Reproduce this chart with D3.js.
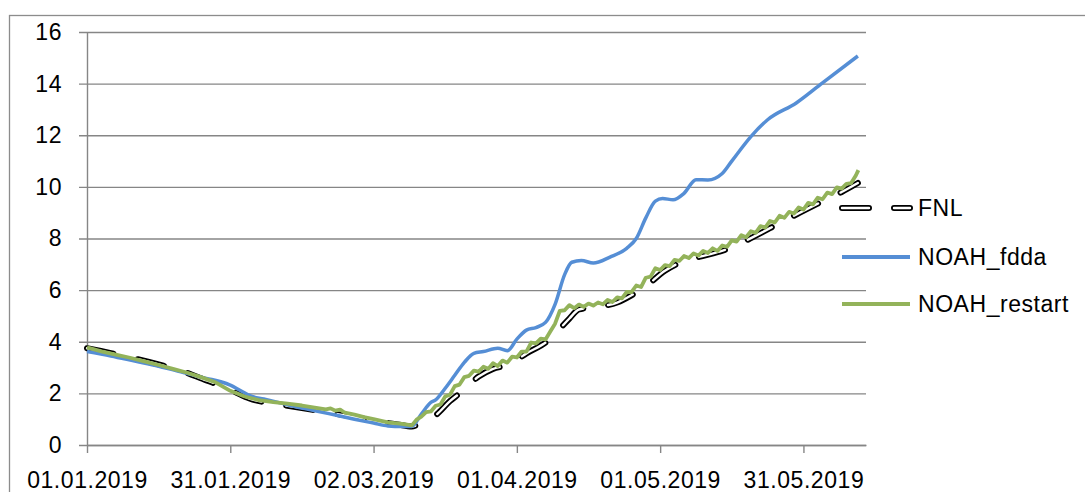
<!DOCTYPE html>
<html>
<head>
<meta charset="utf-8">
<script src="https://cdn.jsdelivr.net/npm/d3@7/dist/d3.min.js"></script>
<style>
  html, body { margin: 0; padding: 0; background: #fff; }
  svg { display: block; font-family: "Liberation Sans", Arial, sans-serif; }
</style>
</head>
<body>
<svg id="chart" width="1085" height="492"></svg>
<script>
// ---------- data (day offsets from 01.01.2019) ----------
const tickDays = [0, 30, 60, 90, 120, 150];
const tickLabels = ["01.01.2019", "31.01.2019", "02.03.2019", "01.04.2019", "01.05.2019", "31.05.2019"];
const yTicks = [0, 2, 4, 6, 8, 10, 12, 14, 16];
const seriesNames = ["FNL", "NOAH_fdda", "NOAH_restart"];

const fnlDays = [0, 5, 10, 15, 20, 25, 28, 31, 34, 38, 42, 46, 50, 54, 58, 62, 65, 68, 70, 73, 76, 78, 82, 85, 88, 90, 92, 95, 97, 99, 101, 103, 107, 111, 114, 117, 121, 124, 128, 132, 135, 138, 143, 148, 153, 158, 161.4];
const fnlValues = [3.75, 3.56, 3.35, 3.12, 2.86, 2.5, 2.3, 2.05, 1.8, 1.63, 1.52, 1.4, 1.27, 1.15, 1.02, 0.88, 0.8, 0.72, 0.85, 1.15, 1.7, 2.0, 2.65, 2.95, 3.1, 3.3, 3.55, 3.85, 4.1, 4.5, 4.9, 5.25, 5.36, 5.52, 5.8, 6.15, 6.75, 7.05, 7.28, 7.47, 7.65, 7.92, 8.4, 8.88, 9.35, 9.8, 10.15];

const fddaDays = [0, 5, 10, 15, 20, 25, 28, 30, 32, 34, 37, 40, 44, 48, 52, 56, 60, 63, 66, 68, 70, 72, 73, 75, 77, 79, 81, 83, 86, 88, 90, 92, 94, 96, 98, 100, 101.5, 103.5, 106, 109.5, 113, 115, 117, 119, 120.5, 122.7, 125, 127.5, 130, 133, 135, 139, 142.5, 148.5, 154, 161.4];
const fddaValues = [3.62, 3.45, 3.25, 3.05, 2.82, 2.58, 2.45, 2.32, 2.12, 1.92, 1.78, 1.65, 1.47, 1.32, 1.16, 1.0, 0.85, 0.74, 0.72, 0.72, 1.2, 1.65, 1.75, 2.2, 2.7, 3.2, 3.55, 3.62, 3.75, 3.65, 4.1, 4.45, 4.55, 4.75, 5.45, 6.6, 7.08, 7.15, 7.05, 7.28, 7.62, 8.0, 8.8, 9.45, 9.55, 9.5, 9.75, 10.28, 10.27, 10.52, 11.0, 11.95, 12.6, 13.25, 14.03, 15.07];

const restartDays = [0, 3, 6, 9, 12, 15, 18, 21, 24, 27, 30, 33, 36, 39, 42, 45, 48, 50, 51, 52, 53, 54, 56, 58, 60, 63, 66, 68,
  69, 70, 71, 72, 73, 74, 75, 76, 77, 78, 79, 80, 81, 82, 83, 84, 85, 86, 87, 88, 89, 90,
  91, 92, 93, 94, 95, 96, 97, 98, 99, 100, 101, 102, 103, 104, 105, 106, 107, 108, 109, 110,
  111, 112, 113, 114, 115, 116, 117, 118, 119, 120, 121, 122, 123, 124, 125, 126, 127, 128, 129, 130,
  131, 132, 133, 134, 135, 136, 137, 138, 139, 140, 141, 142, 143, 144, 145, 146, 147, 148, 149, 150,
  151, 152, 153, 154, 155, 156, 157, 158, 159, 160, 161, 161.5];
const restartValues = [3.78, 3.63, 3.5, 3.38, 3.24, 3.1, 2.95, 2.8, 2.62, 2.42, 2.1, 1.88, 1.74, 1.66, 1.6, 1.53, 1.44, 1.38, 1.42, 1.33, 1.37, 1.25, 1.18, 1.08, 1.0, 0.88, 0.82, 0.76,
  0.98, 1.10, 1.27, 1.30, 1.52, 1.57, 1.88, 1.95, 2.28, 2.34, 2.63, 2.68, 2.88, 2.84, 3.03, 2.95, 3.17, 3.06, 3.27, 3.19, 3.42, 3.39,
  3.62, 3.62, 3.97, 3.94, 4.12, 4.09, 4.40, 4.70, 5.20, 5.22, 5.42, 5.30, 5.44, 5.35, 5.48, 5.40, 5.52, 5.45, 5.62, 5.54,
  5.72, 5.68, 5.93, 5.92, 6.18, 6.12, 6.48, 6.52, 6.85, 6.78, 6.97, 6.93, 7.17, 7.13, 7.32, 7.24, 7.42, 7.34, 7.52, 7.44,
  7.62, 7.52, 7.73, 7.68, 7.93, 7.88, 8.13, 8.05, 8.28, 8.22, 8.48, 8.42, 8.68, 8.62, 8.88, 8.80, 9.03, 8.97, 9.20, 9.12,
  9.38, 9.32, 9.58, 9.52, 9.78, 9.72, 9.98, 9.93, 10.12, 10.15, 10.45, 10.65];

// ---------- layout ----------
const svg = d3.select("#chart");
const plotLeft = 87, plotRight = 866, plotTop = 32, plotBottom = 445;
const gridColor = "#868686";
const blue = "#558ED5", green = "#93B35A";
const fnlDash = "27,25";
const fontSize = 23, letterSpacing = "0.55px";

const x = d3.scaleLinear().domain([0, 163.1]).range([plotLeft, plotRight]);
const y = d3.scaleLinear().domain([0, 16]).range([plotBottom, plotTop]);

// outer frame
svg.append("rect").attr("x", 9.5).attr("y", 15.5).attr("width", 1200).attr("height", 600)
  .attr("fill", "none").attr("stroke", "#8c8c8c").attr("stroke-width", 1.3);

// y axis + gridlines
const yAxis = svg.append("g").attr("transform", `translate(${plotLeft},0)`)
  .call(d3.axisLeft(y).tickValues(yTicks).tickSize(-(plotRight - plotLeft)).tickSizeOuter(0).tickPadding(25));
yAxis.selectAll(".tick line").attr("x1", -8).attr("x2", plotRight - plotLeft)
  .attr("stroke", gridColor).attr("stroke-width", 1.4);
yAxis.select(".domain").attr("stroke", gridColor).attr("stroke-width", 1.4);
yAxis.selectAll("text").attr("font-size", fontSize).attr("fill", "#000").attr("letter-spacing", letterSpacing)
  .attr("font-family", "'Liberation Sans', Arial, sans-serif");

// x axis
const xAxis = svg.append("g").attr("transform", `translate(0,${plotBottom})`)
  .call(d3.axisBottom(x).tickValues(tickDays).tickFormat((d, i) => tickLabels[i]).tickSize(8).tickSizeOuter(0).tickPadding(19));
xAxis.selectAll(".tick line").attr("stroke", gridColor).attr("stroke-width", 1.4);
xAxis.select(".domain").attr("stroke", gridColor).attr("stroke-width", 1.4);
xAxis.selectAll("text").attr("font-size", fontSize).attr("fill", "#000").attr("letter-spacing", letterSpacing)
  .attr("font-family", "'Liberation Sans', Arial, sans-serif");

// ---------- lines ----------
const smooth = d3.line().x(d => x(d[0])).y(d => y(d[1])).curve(d3.curveMonotoneX);
const jag = d3.line().x(d => x(d[0])).y(d => y(d[1]));

const fnl = d3.zip(fnlDays, fnlValues);
const fdda = d3.zip(fddaDays, fddaValues);
const restart = d3.zip(restartDays, restartValues);

// FNL: black-outlined dashes (white core)
svg.append("path").datum(fnl).attr("d", smooth).attr("fill", "none")
  .attr("stroke", "#000").attr("stroke-width", 6).attr("stroke-dasharray", fnlDash).attr("stroke-linecap", "round");
svg.append("path").datum(fnl).attr("d", smooth).attr("fill", "none")
  .attr("stroke", "#fff").attr("stroke-width", 2.4).attr("stroke-dasharray", fnlDash).attr("stroke-linecap", "round");

svg.append("path").datum(fdda).attr("d", smooth).attr("fill", "none")
  .attr("stroke", blue).attr("stroke-width", 3.5).attr("stroke-linejoin", "round");

svg.append("path").datum(restart).attr("d", jag).attr("fill", "none")
  .attr("stroke", green).attr("stroke-width", 3.8).attr("stroke-linejoin", "round");

// ---------- legend ----------
const legendY = [208, 257, 304];
const lg = svg.append("g");
seriesNames.forEach((name, i) => {
  const ly = legendY[i];
  if (i === 0) {
    lg.append("line").attr("x1", 842).attr("x2", 910).attr("y1", ly).attr("y2", ly)
      .attr("stroke", "#000").attr("stroke-width", 6).attr("stroke-dasharray", fnlDash).attr("stroke-linecap", "round");
    lg.append("line").attr("x1", 842).attr("x2", 910).attr("y1", ly).attr("y2", ly)
      .attr("stroke", "#fff").attr("stroke-width", 2.4).attr("stroke-dasharray", fnlDash).attr("stroke-linecap", "round");
  } else {
    lg.append("line").attr("x1", 842).attr("x2", 910).attr("y1", ly).attr("y2", ly)
      .attr("stroke", i === 1 ? blue : green).attr("stroke-width", 3.8);
  }
  lg.append("text").attr("x", 918).attr("y", ly).attr("dy", "0.36em")
    .attr("font-size", fontSize).attr("letter-spacing", letterSpacing).attr("fill", "#000").text(name);
});
</script>
</body>
</html>
